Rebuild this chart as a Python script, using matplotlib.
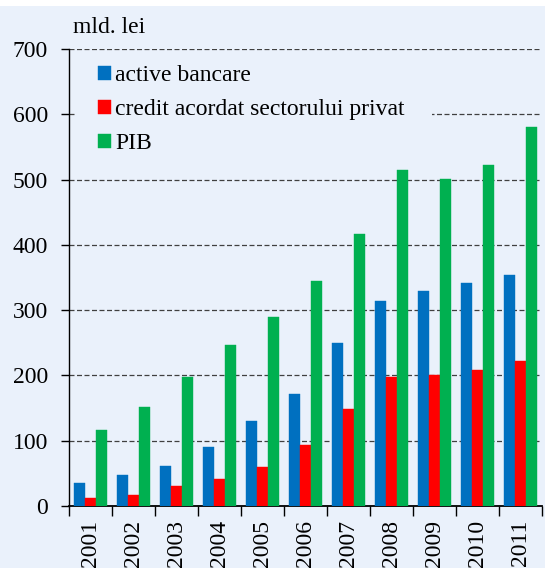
import matplotlib
matplotlib.use("Agg")
import matplotlib.pyplot as plt
from matplotlib.patches import Rectangle
import numpy as np

years = ["2001", "2002", "2003", "2004", "2005", "2006", "2007", "2008", "2009", "2010", "2011"]
active_bancare = [35, 47, 61, 91, 130, 172, 250, 314, 330, 342, 354]
credit_privat = [12, 17, 30, 41, 60, 93, 148, 198, 201, 209, 222]
pib = [116, 152, 198, 247, 289, 345, 416, 515, 501, 523, 580]
series_labels = ["active bancare", "credit acordat sectorului privat", "PIB"]
yticks = [0, 100, 200, 300, 400, 500, 600, 700]

bg = "#EAF1FB"
colors = ["#0070C0", "#FF0000", "#00B050"]
plt.rcParams["font.family"] = ["Liberation Serif", "DejaVu Serif"]
FS = 17

fig = plt.figure(figsize=(5.45, 5.68), dpi=100, facecolor="white")
fig.patches.append(Rectangle((0, 0), 1, 1 - 6 / 568, transform=fig.transFigure,
                             facecolor=bg, edgecolor="none", zorder=-10))
ax = fig.add_axes([69 / 545, (568 - 506) / 568, (542 - 69) / 545, (506 - 49) / 568])
ax.set_facecolor(bg)
ax.patch.set_alpha(0)

x = np.arange(len(years))
w = 0.25
for i, (vals, c, lab) in enumerate(zip([active_bancare, credit_privat, pib], colors, series_labels)):
    ax.bar(x + (i - 1) * w, vals, width=w, color=c, label=lab, zorder=3,
           edgecolor=c, linewidth=0.3)

ax.set_ylim(0, 700)
ax.set_xlim(-0.5, 10.5)
ax.set_yticks(yticks)
ax.yaxis.grid(True, linestyle=(0, (4, 2)), color="#404040", linewidth=0.9)
ax.set_axisbelow(True)

ax.set_xticks(x)
ax.set_xticklabels(years, rotation=90, fontsize=FS)
ax.set_xticks(np.arange(-0.5, 11, 1), minor=True)
ax.tick_params(axis="x", which="major", length=0, pad=10)
ax.tick_params(axis="x", which="minor", length=7, width=1, direction="out", color="black")
ax.tick_params(axis="y", length=6, width=1, direction="out", labelsize=FS, pad=9)

for s in ["top", "right"]:
    ax.spines[s].set_visible(False)
ax.spines["left"].set_linewidth(1)
ax.spines["bottom"].set_linewidth(1.3)

fig.text(73 / 545, 1 - 33 / 568, "mld. lei", fontsize=FS, ha="left", va="baseline")

# opaque backdrop behind the legend (hides the grid line there)
ax.add_patch(Rectangle((77 / 545, 1 - 160 / 568), (432 - 77) / 545, 100 / 568,
                       transform=fig.transFigure, facecolor=bg, edgecolor="none",
                       zorder=2))

leg = ax.legend(loc="upper left", bbox_to_anchor=(98 / 545, 1 - 65 / 568),
                bbox_transform=fig.transFigure, fontsize=FS, frameon=False,
                handlelength=0.55, handleheight=0.55, handletextpad=0.18,
                labelspacing=0.56, borderpad=0, borderaxespad=0)
leg.set_zorder(4)

fig.savefig("out.png", dpi=100, facecolor="white")
